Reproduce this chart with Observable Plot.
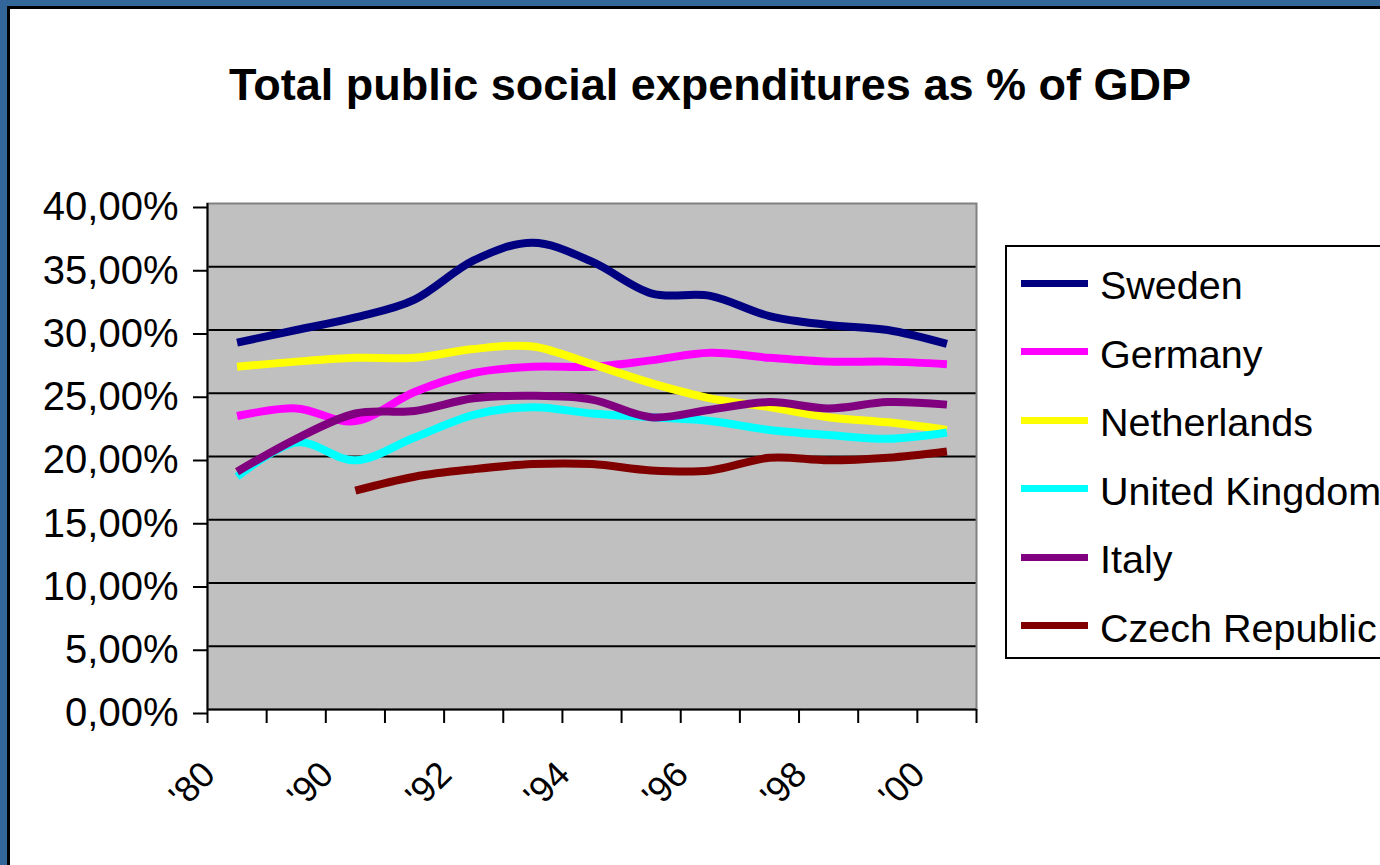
<!DOCTYPE html>
<html><head><meta charset="utf-8">
<script src="https://cdn.jsdelivr.net/npm/d3@7"></script>
<script src="https://cdn.jsdelivr.net/npm/@observablehq/plot@0.6"></script>
<style>
html,body{margin:0;padding:0;width:1380px;height:865px;overflow:hidden;background:#336699;font-family:"Liberation Sans",Arial,sans-serif;}
#sheet{position:absolute;left:7px;top:6px;width:1400px;height:900px;background:#fff;border-left:3px solid #000;border-top:3px solid #000;}
#title{position:absolute;left:0;top:62px;width:1420px;text-align:center;font-weight:bold;font-size:45px;line-height:45px;white-space:nowrap;}
#chart{position:absolute;left:0;top:0;}
#legend{position:absolute;left:1005px;top:245px;width:420px;height:410px;border:2px solid #000;background:#fff;}
.sw{position:absolute;left:14px;width:67px;height:7px;}
.lt{position:absolute;left:93px;font-size:39.5px;line-height:39px;white-space:nowrap;}
</style></head><body>
<div id="sheet"></div>
<div id="title">Total public social expenditures as % of GDP</div>
<div id="chart"></div>
<div id="legend"></div>
<script>
const categories = ["'80","'85","'90","'91","'92","'93","'94","'95","'96","'97","'98","'99","'00"];
const xLabels = ["'80","'90","'92","'94","'96","'98","'00"];
const countries = ["Sweden","Germany","Netherlands","United Kingdom","Italy","Czech Republic"];
const colors = ["#000080","#FF00FF","#FFFF00","#00FFFF","#800080","#800000"];
const yTicks = [0,5,10,15,20,25,30,35,40];

const sweden      = [29.0, 30.0, 31.0, 32.4, 35.5, 36.9, 35.4, 32.9, 32.7, 31.1, 30.4, 30.0, 28.9];
const germany     = [23.2, 23.8, 22.8, 25.1, 26.6, 27.1, 27.1, 27.6, 28.2, 27.8, 27.5, 27.5, 27.3];
const netherlands = [27.1, 27.5, 27.8, 27.8, 28.5, 28.7, 27.3, 25.8, 24.6, 23.9, 23.1, 22.7, 22.1];
const uk          = [18.4, 21.1, 19.7, 21.5, 23.3, 23.9, 23.4, 23.1, 22.8, 22.1, 21.7, 21.4, 21.9];
const italy       = [18.8, 21.4, 23.4, 23.6, 24.6, 24.8, 24.5, 23.1, 23.7, 24.3, 23.8, 24.3, 24.1];
const czech       = [null, null, 17.3, 18.4, 19.0, 19.4, 19.4, 18.9, 18.9, 19.9, 19.7, 19.9, 20.4];

const seriesValues = [sweden, germany, netherlands, uk, italy, czech];
const rows = [];
countries.forEach((c, k) => {
  seriesValues[k].forEach((v, i) => {
    if (v != null) rows.push({country: c, pos: i + 0.5, value: v});
  });
});
const n = categories.length;
const boundaries = d3.range(0, n + 1);
const fmt = d => d.toFixed(2).replace(".", ",") + "%";

const chart = Plot.plot({
  width: 1000,
  height: 865,
  marginLeft: 207,
  marginRight: 24,
  marginTop: 203,
  marginBottom: 156,
  style: {fontFamily: "'Liberation Sans', Arial, sans-serif", background: "transparent", color: "black", overflow: "visible"},
  x: {type: "linear", domain: [0, n]},
  y: {domain: [0, 40]},
  color: {domain: countries, range: colors},
  marks: [
    Plot.frame({fill: "#c0c0c0", stroke: null}),
    Plot.ruleY(yTicks.filter(t => t > 0 && t < 40), {stroke: "black", strokeWidth: 2}),
    Plot.frame({stroke: "#808080", strokeWidth: 2}),
    Plot.line(rows, {x: "pos", y: "value", z: "country", stroke: "country", strokeWidth: 8, curve: "cardinal", strokeLinejoin: "round", strokeLinecap: "butt"}),
    Plot.ruleX([0], {stroke: "black", strokeWidth: 2}),
    Plot.ruleY([0], {stroke: "black", strokeWidth: 2}),
    Plot.axisY({ticks: yTicks, tickSize: 14, tickPadding: 15, tickFormat: fmt, fontSize: 40, strokeWidth: 2, label: null, dy: 4}),
    Plot.axisX({ticks: boundaries, tickSize: 14, tickFormat: () => "", strokeWidth: 2, label: null}),
    Plot.text(xLabels, {x: d => categories.indexOf(d) + 0.5, frameAnchor: "bottom", rotate: -45, textAnchor: "end", dx: -20, dy: 67, fontSize: 36, fill: "black"})
  ]
});
document.getElementById("chart").appendChild(chart);

const legend = document.getElementById("legend");
countries.forEach((c, k) => {
  const center = 283 + 68.5 * k - 247;
  const sw = document.createElement("div");
  sw.className = "sw";
  sw.style.top = (center - 3.5) + "px";
  sw.style.background = colors[k];
  legend.appendChild(sw);
  const t = document.createElement("div");
  t.className = "lt";
  t.style.top = (center + 16 - 33) + "px";
  t.textContent = c;
  legend.appendChild(t);
});
</script>
</body></html>
